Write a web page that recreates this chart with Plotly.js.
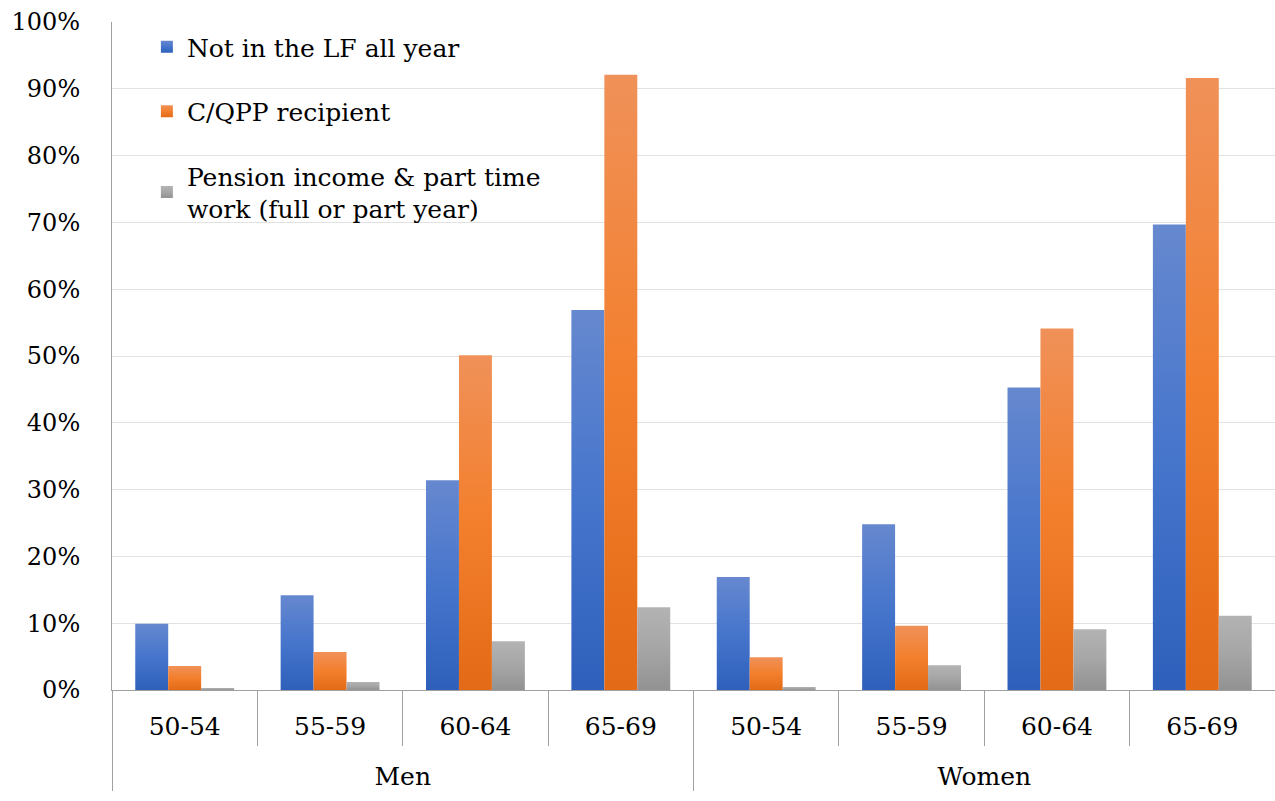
<!DOCTYPE html>
<html>
<head>
<meta charset="utf-8">
<script src="https://cdn.plot.ly/plotly-3.0.1.min.js"></script>
<style>html,body{margin:0;padding:0;background:#fff;}#chart{width:1275px;height:801px;}</style>
</head>
<body>
<div id="chart"></div>
<script>
const groups = ["Men","Men","Men","Men","Women","Women","Women","Women"];
const ageBands = ["50-54","55-59","60-64","65-69","50-54","55-59","60-64","65-69"];
const seriesNames = ["Not in the LF all year","C/QPP recipient","Pension income & part time<br>work (full or part year)"];
const notInLF = [9.9, 14.2, 31.4, 56.9, 16.9, 24.8, 45.3, 69.7];
const cqppRecipient = [3.6, 5.7, 50.1, 92.1, 4.9, 9.6, 54.1, 91.6];
const pensionPartTime = [0.3, 1.2, 7.3, 12.4, 0.45, 3.7, 9.1, 11.1];
const yTicks = [0,10,20,30,40,50,60,70,80,90,100];

const colors = ["#4472c4","#ed7d31","#a5a5a5"];
const gradStops = [
  ["#6688cf","#4675cc","#2e60bb"],
  ["#f09159","#f37f2c","#e36a17"],
  ["#b3b3b3","#a6a6a6","#929292"]
];
const seriesValues = [notInLF, cqppRecipient, pensionPartTime];
const font = "DejaVu Serif";

const traces = seriesValues.map((vals, i) => ({
  type: "bar",
  name: seriesNames[i],
  legendgroup: "g" + i,
  x: [groups.map(g => "<br>" + g), ageBands],
  y: vals,
  marker: {color: colors[i], line: {width: 0}},
  hoverinfo: "none"
}));

const layout = {
  width: 1275, height: 801,
  margin: {l: 112, r: 0, t: 22, b: 111},
  paper_bgcolor: "#ffffff", plot_bgcolor: "#ffffff",
  font: {family: font, size: 24, color: "#000"},
  barmode: "group",
  bargap: 0.32,
  bargroupgap: 0,
  showlegend: true,
  legend: {
    x: 0.03, y: 0.997, xanchor: "left", yanchor: "top",
    bgcolor: "rgba(0,0,0,0)",
    font: {family: font, size: 25, color: "#000"},
    tracegroupgap: 29,
    itemwidth: 30
  },
  xaxis: {
    type: "multicategory",
    tickson: "boundaries",
    ticks: "outside",
    ticklen: 55,
    tickcolor: "#a0a0a0",
    tickwidth: 1,
    ticklabelstandoff: 14,
    showdividers: true,
    dividercolor: "#a0a0a0",
    dividerwidth: 1,
    showline: true, linecolor: "#a0a0a0", linewidth: 1,
    showgrid: false,
    tickfont: {family: font, size: 25, color: "#000"}
  },
  yaxis: {
    range: [0, 100],
    tickvals: yTicks,
    ticktext: yTicks.map(v => v + "%"),
    showgrid: true, gridcolor: "#e2e2e2", gridwidth: 1,
    showline: true, linecolor: "#a0a0a0", linewidth: 1,
    zeroline: false,
    ticks: "", ticklen: 0,
    ticklabelstandoff: 26,
    tickfont: {family: font, size: 24, color: "#000"}
  }
};

function applyGradients(gd) {
  const svgNS = "http://www.w3.org/2000/svg";
  const svg = gd.querySelector("svg.main-svg");
  let defs = svg.querySelector("defs");
  if (!defs) { defs = document.createElementNS(svgNS, "defs"); svg.insertBefore(defs, svg.firstChild); }
  gradStops.forEach((stops, i) => {
    const lg = document.createElementNS(svgNS, "linearGradient");
    lg.setAttribute("id", "barGrad" + i);
    lg.setAttribute("x1", "0"); lg.setAttribute("y1", "0");
    lg.setAttribute("x2", "0"); lg.setAttribute("y2", "1");
    [0, 0.5, 1].forEach((off, k) => {
      const st = document.createElementNS(svgNS, "stop");
      st.setAttribute("offset", off);
      st.setAttribute("stop-color", stops[k]);
      lg.appendChild(st);
    });
    defs.appendChild(lg);
  });
  gd.querySelectorAll(".barlayer .trace").forEach((tr, i) => {
    tr.querySelectorAll("path").forEach(p => { p.style.fill = "url(#barGrad" + i + ")"; });
  });
  gd.querySelectorAll(".legend .traces").forEach((tr, i) => {
    tr.querySelectorAll(".legendpoints path").forEach(p => { p.style.fill = "url(#barGrad" + i + ")"; });
  });
}

Plotly.newPlot("chart", traces, layout, {displayModeBar: false, staticPlot: true}).then(applyGradients);
</script>
</body>
</html>
